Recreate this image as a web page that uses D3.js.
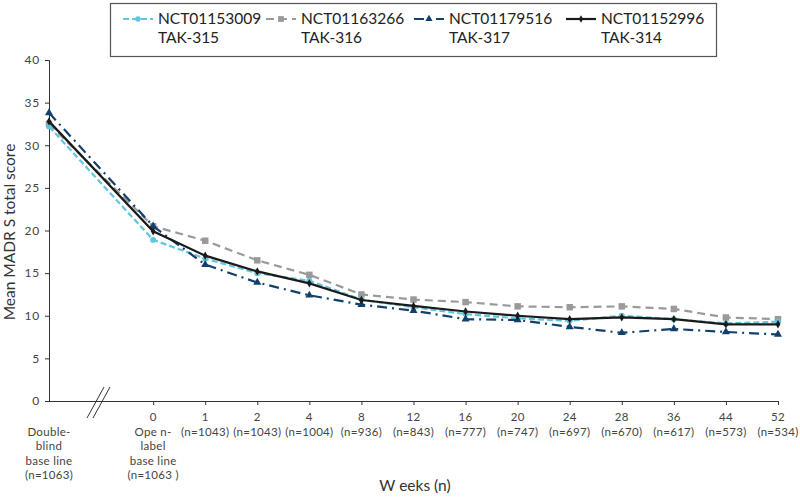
<!DOCTYPE html>
<html><head><meta charset="utf-8">
<script src="https://cdn.jsdelivr.net/npm/d3@7"></script>
<style>body{margin:0;background:#fff;} svg{display:block;} text{font-family:Lato,"Open Sans",sans-serif;}</style>
</head><body><div id="chart"></div>
<script>
// slots: index position along x (Double-blind baseline, gap, then weeks)
const slots = [0, 2, 3, 4, 5, 6, 7, 8, 9, 10, 11, 12, 13, 14];
const weekLabels = ["", "0", "1", "2", "4", "8", "12", "16", "20", "24", "28", "36", "44", "52"];
const nLabels = ["", "", "(n=1043)", "(n=1043)", "(n=1004)", "(n=936)", "(n=843)", "(n=777)", "(n=747)", "(n=697)", "(n=670)", "(n=617)", "(n=573)", "(n=534)"];
const yTicks = [0, 5, 10, 15, 20, 25, 30, 35, 40];

const tak315 = [32.2, 18.9, 16.7, 15.0, 14.1, 11.9, 11.0, 10.2, 9.7, 9.4, 10.0, 9.6, 9.1, 9.3];
const tak316 = [32.5, 20.5, 18.8, 16.5, 14.8, 12.5, 11.9, 11.6, 11.1, 11.0, 11.1, 10.8, 9.8, 9.6];
const tak317 = [33.8, 20.5, 16.0, 13.9, 12.4, 11.3, 10.6, 9.6, 9.5, 8.7, 8.0, 8.45, 8.1, 7.8];
const tak314 = [32.8, 19.9, 17.05, 15.2, 13.8, 11.85, 11.15, 10.5, 10.0, 9.6, 9.8, 9.6, 9.0, 9.0];

const seriesNames = [["NCT01153009", "TAK-315"], ["NCT01163266", "TAK-316"], ["NCT01179516", "TAK-317"], ["NCT01152996", "TAK-314"]];

const W = 800, H = 497;
const svg = d3.select("#chart").append("svg").attr("width", W).attr("height", H);
const x = d3.scaleLinear().domain([0, 14]).range([49, 778]);
const y = d3.scaleLinear().domain([0, 40]).range([401, 60]);

const axisColor = "#333";
const tickText = "#444";
const FONT = 'Lato,"Open Sans",sans-serif';

// Y axis
const yAxis = svg.append("g").attr("transform", "translate(49,0)")
  .call(d3.axisLeft(y).tickValues(yTicks).tickSize(4).tickPadding(5));
yAxis.select(".domain").attr("stroke", axisColor);
yAxis.selectAll(".tick line").attr("stroke", axisColor);
yAxis.selectAll("text").attr("fill", tickText).style("font-size", "12px").style("letter-spacing", "0.8px").style("font-family", FONT);

// X axis
const xAxis = svg.append("g").attr("transform", "translate(0,401)")
  .call(d3.axisBottom(x).tickValues(slots.slice(1)).tickSize(4).tickFormat(""));
xAxis.select(".domain").attr("d", `M${x(0)},0.5H${x(14)}`).attr("stroke", axisColor);
xAxis.selectAll(".tick line").attr("stroke", axisColor);

// Break marks
const brk = svg.append("g").attr("stroke", "#333").attr("stroke-width", 1);
brk.append("line").attr("x1", 87).attr("y1", 418).attr("x2", 104).attr("y2", 387);
brk.append("line").attr("x1", 93).attr("y1", 418).attr("x2", 110).attr("y2", 387);

// X tick labels
const lab = svg.append("g").attr("fill", tickText).style("font-size", "11.5px").style("letter-spacing", "0.3px").attr("text-anchor", "middle");
slots.forEach((s, i) => {
  if (weekLabels[i]) lab.append("text").attr("x", x(s)).attr("y", 421).text(weekLabels[i]);
  if (nLabels[i]) lab.append("text").attr("x", x(s)).attr("y", 435.5).text(nLabels[i]);
});
["Double-", "blind", "base line", "(n=1063)"].forEach((t, j) =>
  lab.append("text").attr("x", x(0)).attr("y", 435.5 + j * 14.5).text(t));
["Ope n-", "label", "base line", "(n=1063 )"].forEach((t, j) =>
  lab.append("text").attr("x", x(2)).attr("y", 435.5 + j * 14.5).text(t));

// Axis titles
svg.append("text").attr("x", 415).attr("y", 491).attr("text-anchor", "middle")
  .attr("fill", "#333").style("font-size", "15.5px").text("W eeks (n)");
svg.append("text").attr("transform", "translate(15,232) rotate(-90)").attr("text-anchor", "middle")
  .attr("fill", "#333").style("font-size", "15.5px").text("Mean MADR S  total score");

// Series
const styles = [
  { data: tak315, color: "#5fc6e0", dash: "6,3", marker: "circle" },
  { data: tak316, color: "#9a9a9a", dash: "8,5", marker: "square" },
  { data: tak317, color: "#123f6b", dash: "10,5,2,5", marker: "triangle" },
  { data: tak314, color: "#1a1a1a", dash: null, marker: "diamond" }
];
const symTypes = { circle: d3.symbolCircle, square: d3.symbolSquare, triangle: d3.symbolTriangle, diamond: d3.symbolDiamond };
const symSizes = { circle: 28, square: 42, triangle: 28, diamond: 20 };
const line = d3.line().x((d, i) => x(slots[i])).y(d => y(d));

const drawOrder = [1, 0, 2, 3];
drawOrder.forEach(k => {
  const st = styles[k];
  svg.append("path").datum(st.data).attr("d", line).attr("fill", "none")
    .attr("stroke", st.color).attr("stroke-width", 2.2)
    .attr("stroke-dasharray", st.dash);
  svg.append("g").selectAll("path").data(st.data).join("path")
    .attr("transform", (d, i) => `translate(${x(slots[i])},${y(d)})`)
    .attr("d", d3.symbol().type(symTypes[st.marker]).size(symSizes[st.marker]))
    .attr("fill", st.color);
});

// Legend
const lg = svg.append("g");
lg.append("rect").attr("x", 110.5).attr("y", 3.5).attr("width", 606).attr("height", 53)
  .attr("fill", "#fff").attr("stroke", "#555").attr("stroke-width", 1.2);
const legX = [123, 266, 414, 566];
styles.forEach((st, k) => {
  const g = lg.append("g").attr("transform", `translate(${legX[k]},0)`);
  g.append("line").attr("x1", 0).attr("x2", 30).attr("y1", 19).attr("y2", 19)
    .attr("stroke", st.color).attr("stroke-width", 2.2).attr("stroke-dasharray", st.dash);
  g.append("path").attr("transform", "translate(15,19)")
    .attr("d", d3.symbol().type(symTypes[st.marker]).size(symSizes[st.marker] * 0.8)).attr("fill", st.color);
  g.append("text").attr("x", 35).attr("y", 24).attr("fill", "#222").style("font-size", "15.5px").text(seriesNames[k][0]);
  g.append("text").attr("x", 35).attr("y", 43).attr("fill", "#222").style("font-size", "15.5px").text(seriesNames[k][1]);
});
</script></body></html>
